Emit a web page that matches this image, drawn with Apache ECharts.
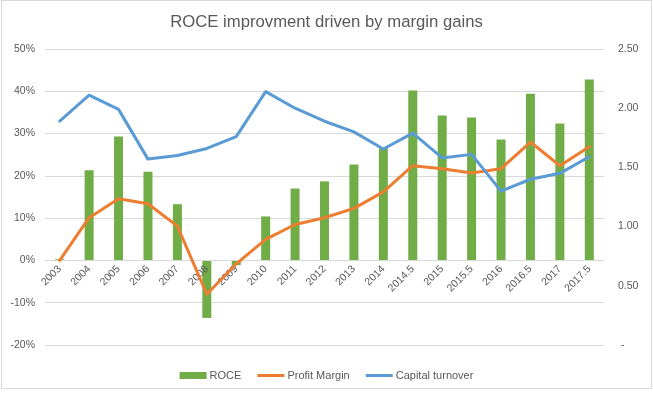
<!DOCTYPE html>
<html>
<head>
<meta charset="utf-8">
<script src="https://cdn.jsdelivr.net/npm/echarts@6/dist/echarts.min.js"></script>
<style>
html,body{margin:0;padding:0;background:#fff;}
#frame{position:absolute;left:1px;top:0px;width:651px;height:389px;box-sizing:border-box;border:1px solid #d9d9d9;}
#chart{position:absolute;left:0;top:0;width:653px;height:393px;}
</style>
</head>
<body>
<div id="frame"></div>
<div id="chart"></div>
<script>
const categories = ['2003','2004','2005','2006','2007','2008','2009','2010','2011','2012','2013','2014','2014.5','2015','2015.5','2016','2016.5','2017','2017.5'];
const roce = [0.3, 21.3, 29.3, 21.0, 13.3, -13.6, -1.1, 10.4, 17.0, 18.7, 22.7, 26.5, 40.2, 34.3, 33.8, 28.6, 39.4, 32.4, 42.8];
const profitMargin = [0.0, 10.1, 14.6, 13.4, 8.1, -8.0, -0.8, 5.0, 8.5, 10.1, 12.3, 16.2, 22.4, 21.7, 20.7, 21.7, 28.0, 22.4, 26.9];
const capitalTurnover = [1.89, 2.11, 1.99, 1.57, 1.60, 1.66, 1.76, 2.14, 2.00, 1.89, 1.80, 1.655, 1.79, 1.58, 1.61, 1.30, 1.40, 1.45, 1.59];
const leftTicks = {min: -20, max: 50, interval: 10};
const rightTicks = {min: 0, max: 2.5, interval: 0.5};

const FONT = '"Liberation Sans", Arial, sans-serif';
const TXT = '#595959';
const LINE_ICON = 'path://M0,0L27,0L27,3L0,3Z';
const GRID = {left: 45, right: 49, top: 49, bottom: 48};
const plotH = 393 - GRID.top - GRID.bottom;
// place the category axis where the left value axis crosses zero
const zeroOffset = -plotH * (0 - leftTicks.min) / (leftTicks.max - leftTicks.min);

const chart = echarts.init(document.getElementById('chart'), null, {renderer: 'canvas'});
chart.setOption({
  animation: false,
  backgroundColor: 'transparent',
  textStyle: {fontFamily: FONT, color: TXT},
  title: {
    text: 'ROCE improvment driven by margin gains',
    left: 'center', top: 14, padding: 0,
    textStyle: {fontFamily: FONT, fontSize: 16.7, fontWeight: 'normal', color: TXT}
  },
  legend: {
    left: 'center', top: 365,
    itemWidth: 27, itemHeight: 7, itemGap: 16,
    symbolKeepAspect: true,
    textStyle: {fontFamily: FONT, fontSize: 11, color: TXT, padding: [0,0,0,-2]},
    data: [
      {name: 'ROCE', icon: 'rect'},
      {name: 'Profit Margin', icon: LINE_ICON, itemStyle: {color: '#ED7D31'}},
      {name: 'Capital turnover', icon: LINE_ICON, itemStyle: {color: '#5B9BD5'}}
    ]
  },
  grid: Object.assign({containLabel: false}, GRID),
  xAxis: {
    type: 'category',
    data: categories,
    boundaryGap: true,
    position: 'bottom',
    offset: zeroOffset,
    z: 2,
    axisLine: {show: true, onZero: false, lineStyle: {color: '#d9d9d9', width: 1}},
    axisTick: {show: false},
    axisLabel: {rotate: 45, margin: 7, interval: 0, fontFamily: FONT, fontSize: 10.5, color: TXT},
    splitLine: {show: false}
  },
  yAxis: [
    {
      type: 'value', min: leftTicks.min, max: leftTicks.max, interval: leftTicks.interval,
      z: 0,
      axisLine: {show: false}, axisTick: {show: false},
      axisLabel: {formatter: '{value}%', margin: 10, fontFamily: FONT, fontSize: 10.5, color: TXT},
      splitLine: {show: true, lineStyle: {color: '#d9d9d9', width: 1}}
    },
    {
      type: 'value', min: rightTicks.min, max: rightTicks.max, interval: rightTicks.interval,
      position: 'right', z: 0,
      axisLine: {show: false}, axisTick: {show: false},
      axisLabel: {
        formatter: v => v === 0 ? ' -' : v.toFixed(2),
        margin: 14, align: 'left', fontFamily: FONT, fontSize: 10.5, color: TXT
      },
      splitLine: {show: false}
    }
  ],
  series: [
    {
      name: 'ROCE', type: 'bar', yAxisIndex: 0, data: roce, z: 1,
      barWidth: 9, itemStyle: {color: '#70AD47'}
    },
    {
      name: 'Profit Margin', type: 'line', yAxisIndex: 0, data: profitMargin, z: 3,
      symbol: 'none', showSymbol: false,
      lineStyle: {color: '#ED7D31', width: 3, cap: 'round', join: 'round'},
      itemStyle: {color: '#ED7D31'}
    },
    {
      name: 'Capital turnover', type: 'line', yAxisIndex: 1, data: capitalTurnover, z: 3,
      symbol: 'none', showSymbol: false,
      lineStyle: {color: '#5B9BD5', width: 3, cap: 'round', join: 'round'},
      itemStyle: {color: '#5B9BD5'}
    }
  ]
});
</script>
</body>
</html>
